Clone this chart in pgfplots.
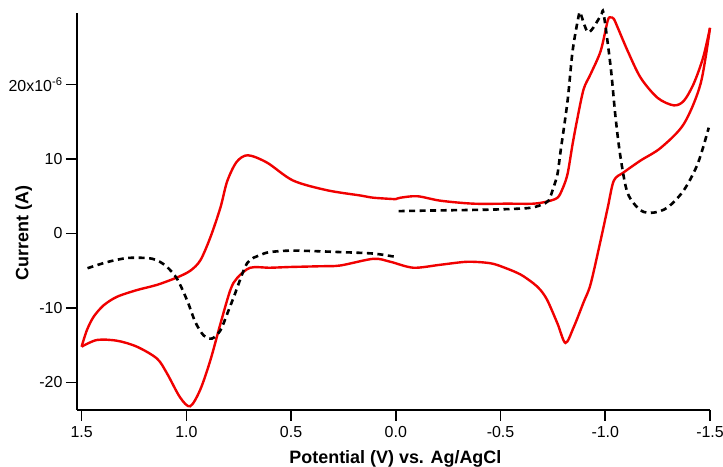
\documentclass[border=0pt]{standalone}
\usepackage{pgfplots}
\pgfplotsset{compat=1.18}
\usepackage{fontspec}
\setmainfont{Liberation Sans}
\definecolor{cvred}{RGB}{240,0,0}
\begin{document}
\begin{tikzpicture}[x=1bp,y=1bp]
\useasboundingbox (-77,-57) rectangle (646,410);
\begin{axis}[
  at={(0,0)}, anchor=south west,
  scale only axis, width=633bp, height=397bp,
  x dir=reverse,
  xmin=-1.5, xmax=1.522, ymin=-23.7, ymax=29.6,
  axis x line*=bottom, axis y line*=left,
  axis line style={line width=1.6bp, black},
  tick align=outside, major tick length=11bp,
  tick style={line width=1.6bp, black},
  xtick={-1.5,-1,-0.5,0,0.5,1,1.5},
  xticklabels={-1.5,-1.0,-0.5,0.0,0.5,1.0,1.5},
  ytick={-20,-10,0,10,20},
  yticklabels={-20,-10,0,10,20x10\textsuperscript{-6}},
  tick label style={font=\fontsize{16}{19}\selectfont},
  xticklabel style={yshift=-2bp},
  xlabel={Potential (V) vs. Ag/AgCl},
  ylabel={Current (A)},
  label style={font=\fontsize{18}{21}\selectfont\bfseries},
  xlabel style={at={(axis description cs:0.503,-0.1234)}, anchor=center},
  ylabel style={at={(axis description cs:-0.0840,0.4459)}, anchor=center},
  clip=false,
]
% red CV: 0 V -> -1.5 V (upper)
\addplot[cvred, line width=2.4bp, smooth, tension=0.5] coordinates {
(0.0,4.6) (-0.022,4.8) (-0.103,5.0) (-0.213,4.4) (-0.370,4.0) (-0.533,4.0)
(-0.657,4.0) (-0.724,4.3) (-0.772,4.8) (-0.796,6.0) (-0.820,8.0) (-0.844,12.0)
(-0.868,15.6) (-0.897,19.4) (-0.930,21.4) (-0.978,24.5) (-1.012,28.6) (-1.026,29.0)
(-1.041,28.8) (-1.060,27.6) (-1.107,24.5) (-1.169,20.9) (-1.250,18.2) (-1.327,17.2)
(-1.375,17.8) (-1.422,20.1) (-1.467,23.6) (-1.500,27.6)
};
% red CV: -1.5 V -> 1.5 V (lower)
\addplot[cvred, line width=2.4bp, smooth, tension=0.5] coordinates {
(-1.500,27.6) (-1.455,20.1) (-1.375,14.7) (-1.265,11.5) (-1.169,9.8) (-1.088,8.2)
(-1.041,7.1) (-1.012,3.5) (-0.978,-0.9) (-0.930,-6.8) (-0.897,-9.2) (-0.849,-12.6)
(-0.810,-14.7) (-0.772,-12.1) (-0.724,-9.0) (-0.691,-7.6) (-0.657,-6.7) (-0.595,-5.5)
(-0.520,-4.6) (-0.452,-4.0) (-0.342,-3.8) (-0.213,-4.2) (-0.084,-4.6) (0.026,-3.8)
(0.107,-3.4) (0.265,-4.3) (0.360,-4.4) (0.504,-4.5) (0.600,-4.6) (0.695,-4.6)
(0.758,-6.0) (0.790,-7.6) (0.837,-12.1) (0.885,-17.0) (0.934,-21.0) (0.982,-23.2)
(1.030,-22.0) (1.092,-18.8) (1.140,-16.8) (1.236,-15.2) (1.331,-14.4) (1.427,-14.3)
(1.500,-15.2)
};
% red CV: 1.5 V -> 0 V (upper)
\addplot[cvred, line width=2.4bp, smooth, tension=0.5] coordinates {
(1.500,-15.2) (1.475,-13.0) (1.443,-11.2) (1.395,-9.65) (1.331,-8.5) (1.236,-7.6)
(1.140,-6.9) (1.044,-5.9) (0.981,-5.0) (0.933,-3.6) (0.885,-0.5) (0.837,3.5)
(0.805,7.0) (0.760,9.6) (0.706,10.5) (0.614,9.5) (0.490,7.1) (0.328,5.8) (0.170,5.1)
(0.107,4.8) (0.0,4.6)
};
% dashed: 0 -> -1.5
\addplot[black, line width=2.6bp, dash pattern=on 6bp off 4.5bp, smooth, tension=0.5] coordinates {
(-0.013,3.0) (-0.213,3.1) (-0.452,3.2) (-0.629,3.4) (-0.691,3.8) (-0.729,4.4)
(-0.753,6.2) (-0.772,8.0) (-0.787,11.1) (-0.820,17.8) (-0.844,24.5) (-0.873,29.2)
(-0.882,29.5) (-0.920,27.0) (-0.978,29.2) (-0.992,29.5) (-1.026,22.3) (-1.049,15.6)
(-1.073,10.2) (-1.107,5.4) (-1.169,3.1) (-1.231,2.8) (-1.298,3.5) (-1.375,5.8)
(-1.442,9.4) (-1.494,14.2)
};
% dashed: 0 -> 1.5
\addplot[black, line width=2.6bp, dash pattern=on 6bp off 4.5bp, smooth, tension=0.5] coordinates {
(0.010,-3.1) (0.107,-2.7) (0.265,-2.5) (0.490,-2.3) (0.600,-2.5) (0.647,-2.9)
(0.710,-4.0) (0.773,-8.5) (0.805,-10.8) (0.837,-13.0) (0.877,-14.1) (0.917,-13.7)
(0.957,-11.9) (0.996,-9.0) (1.044,-6.1) (1.092,-4.5) (1.140,-3.6) (1.188,-3.3)
(1.283,-3.3) (1.379,-3.85) (1.475,-4.7)
};
\end{axis}
\end{tikzpicture}
\end{document}
